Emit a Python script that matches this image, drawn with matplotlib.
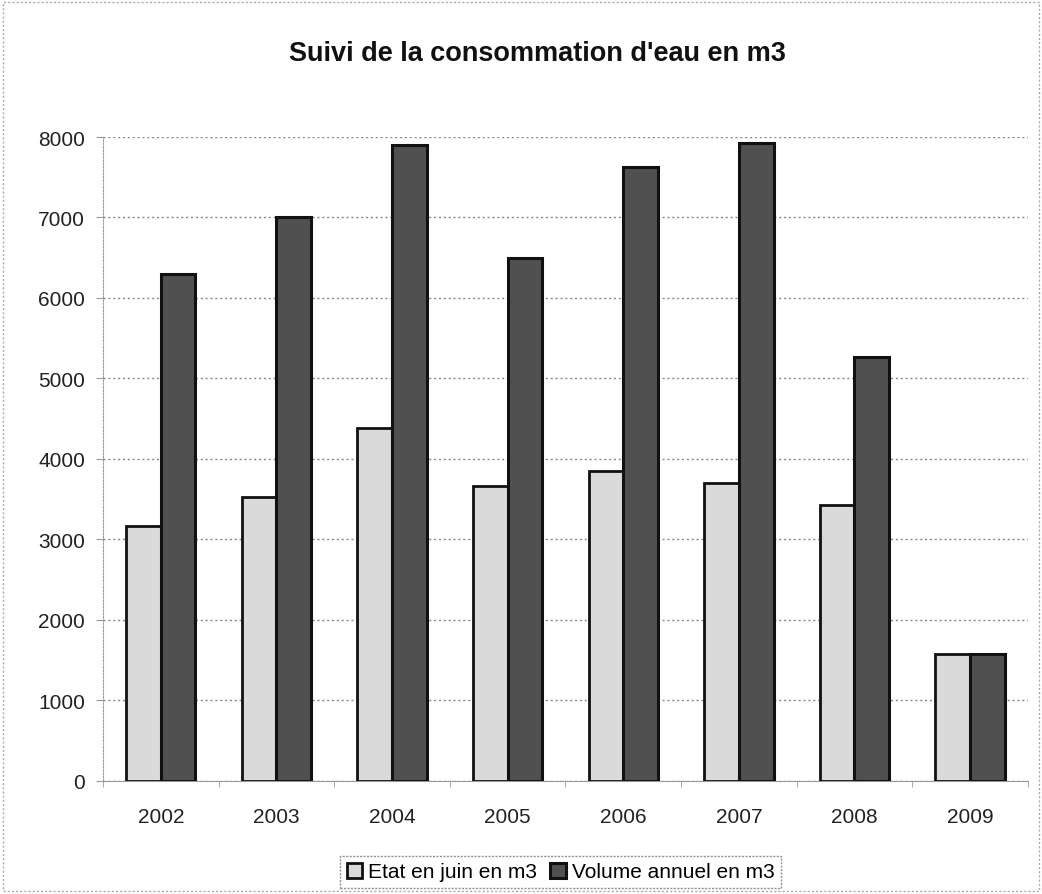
import matplotlib
matplotlib.use("Agg")
import matplotlib.pyplot as plt
import numpy as np
from matplotlib.patches import Rectangle

plt.rcParams['font.family'] = ['Liberation Sans', 'DejaVu Sans']

years = ['2002', '2003', '2004', '2005', '2006', '2007', '2008', '2009']
etat_juin = [3160, 3530, 4380, 3665, 3850, 3695, 3430, 1580]
volume_annuel = [6300, 7005, 7905, 6500, 7630, 7925, 5270, 1580]
series_names = ['Etat en juin en m3', 'Volume annuel en m3']
title = "Suivi de la consommation d'eau en m3"

fig = plt.figure(figsize=(10.42, 8.95), dpi=100)
ax = fig.add_axes([0.0988, 0.1266, 0.8877, 0.7192])

x = np.arange(len(years))
w = 0.3
light = '#dadada'
dark = '#505050'
b1 = ax.bar(x - w/2, etat_juin, w, color=light, edgecolor='#111111', linewidth=2, zorder=3)
b2 = ax.bar(x + w/2, volume_annuel, w, color=dark, edgecolor='#111111', linewidth=2.2, zorder=3)

ax.set_xlim(-0.5, len(years) - 0.5)
ax.set_ylim(0, 8000)
ax.set_yticks(np.arange(0, 8001, 1000))
ax.set_xticks(x)
ax.set_xticklabels(years)
ax.set_xticks(np.arange(-0.5, len(years), 1), minor=True)
ax.tick_params(axis='x', which='major', labelsize=15, colors='#222222', length=0, pad=19)
ax.tick_params(axis='x', which='minor', length=4, color='#999999')
ax.tick_params(axis='y', labelsize=15, colors='#222222', length=5, color='#999999', pad=8)
ax.yaxis.grid(True, linestyle=(0, (1.5, 2)), color='#888888', linewidth=1, zorder=0)
for s in ['top', 'right']:
    ax.spines[s].set_visible(False)
ax.spines['left'].set_color('#999999')
ax.spines['left'].set_linestyle((0, (1.5, 1.5)))
ax.spines['bottom'].set_color('#999999')

fig.text(0.516, 1 - 54/895, title, ha='center', va='center', fontsize=19.5,
         fontweight='bold', color='#111111')

leg = fig.legend([b1, b2], series_names, loc='center', bbox_to_anchor=(0.538, 0.0246),
                 ncol=2, fontsize=15, frameon=True, fancybox=False, handlelength=0.75,
                 handleheight=0.75, handletextpad=0.3, columnspacing=0.6, borderpad=0.3)
leg.get_frame().set_edgecolor('#777777')
leg.get_frame().set_linewidth(1)
leg.get_frame().set_linestyle((0, (1.5, 1)))

fig.patches.append(Rectangle((0.003, 0.003), 0.994, 0.994, transform=fig.transFigure,
                             fill=False, edgecolor='#aaaaaa', linewidth=1, linestyle=(0, (1.5, 1.5))))

fig.savefig('out.png', dpi=100)
